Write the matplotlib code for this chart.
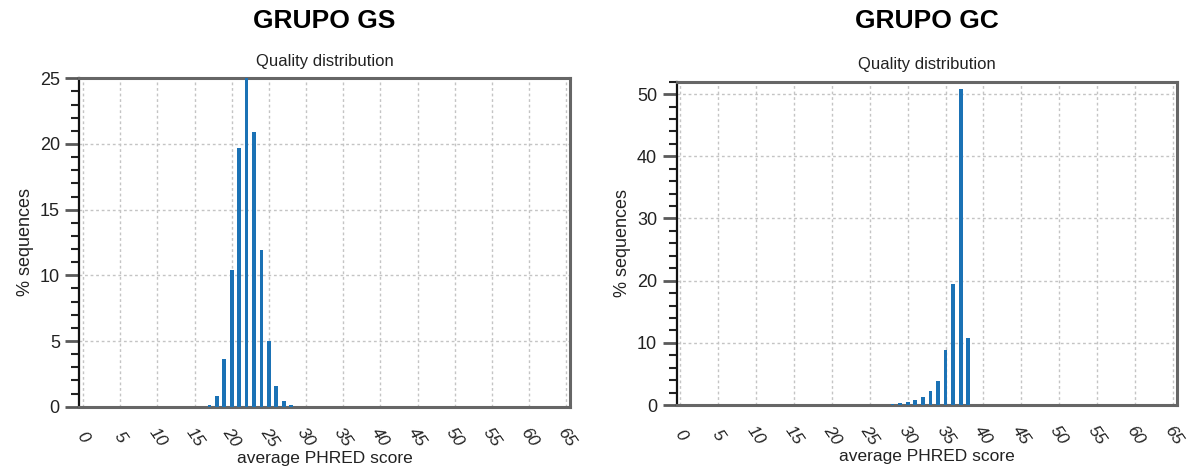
import matplotlib
matplotlib.use("Agg")
import matplotlib.pyplot as plt
from matplotlib.ticker import MultipleLocator

plt.rcParams['font.family'] = ['Liberation Sans', 'DejaVu Sans']

# Average PHRED score bins and % of sequences in each bin
gs_scores = [17, 18, 19, 20, 21, 22, 23, 24, 25, 26, 27, 28]
gs_percent = [0.15, 0.8, 3.6, 10.4, 19.7, 25.0, 20.9, 11.9, 5.0, 1.6, 0.4, 0.1]

gc_scores = [28, 29, 30, 31, 32, 33, 34, 35, 36, 37, 38]
gc_percent = [0.15, 0.27, 0.45, 0.75, 1.3, 2.2, 3.9, 8.8, 19.4, 50.9, 10.8]

x_ticks = list(range(0, 70, 5))

panels = [
    dict(title="GRUPO GS", scores=gs_scores, values=gs_percent,
         rect=[0.0668, 0.131, 0.4134, 0.7017], ylim=(0, 25), major=5, minor=1),
    dict(title="GRUPO GC", scores=gc_scores, values=gc_percent,
         rect=[0.570, 0.1346, 0.4213, 0.6908], ylim=(0, 52), major=10, minor=2),
]

bar_color = "#1b72b5"
frame_color = "#666666"
text_color = "#222222"

fig = plt.figure(figsize=(11.87, 4.68), dpi=100)

for p in panels:
    ax = fig.add_axes(p["rect"])
    ax.bar(p["scores"], p["values"], width=0.5, color=bar_color, zorder=3)
    ax.set_xlim(-0.5, 65.5)
    ax.set_ylim(*p["ylim"])

    ax.yaxis.set_major_locator(MultipleLocator(p["major"]))
    ax.yaxis.set_minor_locator(MultipleLocator(p["minor"]))
    ax.set_xticks(x_ticks)
    ax.set_xticklabels([str(t) for t in x_ticks], rotation=-55,
                       ha="center", va="center", fontsize=12.5,
                       color=text_color, style="italic")

    ax.tick_params(axis="x", length=0, pad=22)
    ax.tick_params(axis="y", which="major", direction="out", length=10,
                   width=2, color="#5a5a5a", pad=4, labelsize=13,
                   labelcolor=text_color)
    ax.tick_params(axis="y", which="minor", direction="out", length=5.5,
                   width=1.5, color="#222222")

    ax.grid(True, which="major", color="#c4c4c4", linestyle=(0, (2, 2)),
            linewidth=1, zorder=0)

    ax.spines["left"].set_color("#111111")
    ax.spines["left"].set_linewidth(1.6)
    for side in ("top", "right", "bottom"):
        ax.spines[side].set_color(frame_color)
        ax.spines[side].set_linewidth(2.2)

    ax.set_ylabel("% sequences", fontsize=13, color=text_color, labelpad=4)
    ax.set_xlabel("average PHRED score", fontsize=12.5, color=text_color,
                  labelpad=1)
    ax.set_title("Quality distribution", fontsize=12, color=text_color,
                 pad=9)

    bbox = ax.get_position()
    cx = (bbox.x0 + bbox.x1) / 2
    fig.text(cx, 0.955, p["title"], ha="center", va="center",
             fontsize=19, fontweight="bold", color="black")

fig.savefig("out.png", dpi=100, facecolor="white")
